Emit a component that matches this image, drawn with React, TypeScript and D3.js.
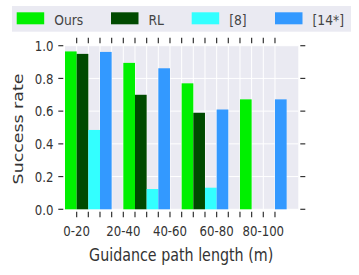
import React from 'react'
import * as d3 from 'd3'

const groups = ['0-20', '20-40', '40-60', '60-80', '80-100']
const seriesNames = ['Ours', 'RL', '[8]', '[14*]']
const seriesColors = ['#00f000', '#004a00', '#33ffff', '#3399ff']
const ours = [0.965, 0.895, 0.77, 0.672]
const rl = [0.95, 0.7, 0.59, 0]
const ref8 = [0.485, 0.124, 0.132, 0]
const ref14 = [0.962, 0.862, 0.61, 0.672]
const yTicks = [0, 0.2, 0.4, 0.6, 0.8, 1.0]

const W = 359
const H = 275
const margin = { top: 45.7, right: 60.7, bottom: 65.7, left: 65 }
const font = 'DejaVu Sans, sans-serif'
const textColor = '#333'
const bg = '#eaeaf2'
// the figure looks squeezed sideways, so text is drawn narrower than tall
const SQ = 0.84

function Txt({ x, y, size, anchor = 'start', rotate = 0, fill = textColor, children }: any) {
  return (
    <text transform={`translate(${x},${y}) scale(${SQ},1) rotate(${rotate})`}
      textAnchor={anchor} fontFamily={font} fontSize={size} fill={fill}>{children}</text>
  )
}

export default function App() {
  const values = [ours, rl, ref8, ref14]
  const nGroups = ours.length
  const slotsPerGroup = seriesNames.length + 1
  const nSlots = nGroups * slotsPerGroup

  // one slot per bar, plus an empty slot after each group
  const x = d3.scaleLinear().domain([0, nSlots]).range([margin.left, W - margin.right])
  const y = d3.scaleLinear().domain([0, 1]).range([H - margin.bottom, margin.top])
  const slotW = x(1) - x(0)

  const tickSlots = d3.range(1, nSlots - 1)
  const x0 = x(0), x1 = x(nSlots)
  const yTop = y(1), yBot = y(0)

  return (
    <svg width={W} height={H} style={{ position: 'absolute', left: 0, top: 0, background: '#fff' }}>
      {/* legend */}
      <rect x={12} y={6} width={339} height={25.7} fill={bg} />
      {seriesNames.map((name, i) => {
        const lx = [16.7, 111, 191.7, 275][i]
        return (
          <g key={name}>
            <rect x={lx} y={12.3} width={27.5} height={12} fill={seriesColors[i]} />
            <Txt x={lx + 37.5} y={24.8} size={14.7} fill="#444">{name}</Txt>
          </g>
        )
      })}

      {/* axes background and grid */}
      <rect x={x0} y={yTop} width={x1 - x0} height={yBot - yTop} fill={bg} />
      {tickSlots.map(k => (
        <line key={'vg' + k} x1={x(k)} x2={x(k)} y1={yTop} y2={yBot} stroke="#fff" strokeWidth={1} />
      ))}
      {yTicks.map(t => (
        <line key={'hg' + t} x1={x0} x2={x1} y1={y(t)} y2={y(t)} stroke="#fff" strokeWidth={1} />
      ))}

      {/* bars */}
      {values.map((vals, s) =>
        vals.map((v, g) => {
          const slot = g * slotsPerGroup + s
          return (
            <rect key={`${s}-${g}`} x={x(slot)} y={y(v)} width={slotW}
              height={yBot - y(v)} fill={seriesColors[s]} />
          )
        })
      )}

      {/* x ticks top and bottom */}
      {tickSlots.map(k => (
        <g key={'xt' + k} stroke="#333" strokeWidth={1.2}>
          <line x1={x(k)} x2={x(k)} y1={37.7} y2={43.3} />
          <line x1={x(k)} x2={x(k)} y1={211.7} y2={217.3} />
        </g>
      ))}
      {groups.map((g, i) => (
        <Txt key={g} x={x(1 + i * 4)} y={235.7} size={14} anchor="middle">{g}</Txt>
      ))}

      {/* y ticks both sides */}
      {yTicks.map(t => (
        <g key={'yt' + t}>
          <line x1={58.3} x2={63.3} y1={y(t)} y2={y(t)} stroke="#333" strokeWidth={1.2} />
          <line x1={300.3} x2={305.3} y1={y(t)} y2={y(t)} stroke="#333" strokeWidth={1.2} />
          <Txt x={53.5} y={y(t) + 5.2} size={14} anchor="end">{t.toFixed(1)}</Txt>
        </g>
      ))}

      {/* axis titles */}
      <Txt x={(x0 + x1) / 2 - 0.5} y={261} size={17} anchor="middle">Guidance path length (m)</Txt>
      <Txt x={22.7} y={129} size={17.4} anchor="middle" rotate={-90}>Success rate</Txt>
    </svg>
  )
}
